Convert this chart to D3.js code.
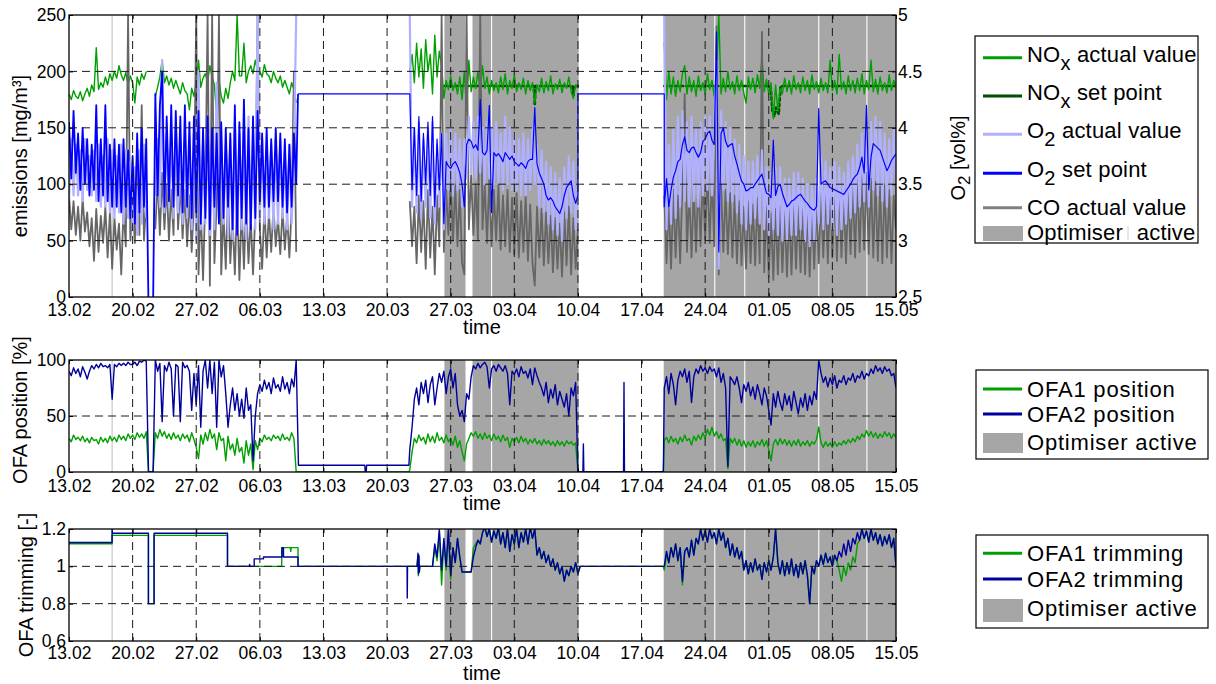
<!DOCTYPE html>
<html>
<head>
<meta charset="utf-8">
<title>Optimiser trial - emissions, OFA position and trimming</title>
<script src="https://d3js.org/d3.v7.min.js"></script>
<style>
    body { margin: 0; background: #fff; }
    text { font-family: "Liberation Sans", Arial, sans-serif; fill: #000; }
</style>
</head>
<body>
<svg id="chart" width="1216" height="684"></svg>
<script>
// ---------------- data ----------------
// time is in days after 13.02; noisy signals are sampled every 6 hours
const STEP = 0.25;
const startA = 0, startB = 37.5, startC = 65.5;

const tickLabels = ["13.02", "20.02", "27.02", "06.03", "13.03", "20.03", "27.03",
    "03.04", "10.04", "17.04", "24.04", "01.05", "08.05", "15.05"];
const emissionTicks = [0, 50, 100, 150, 200, 250];
const o2Ticks = [2.5, 3, 3.5, 4, 4.5, 5];
const positionTicks = [0, 50, 100];
const trimTicks = [0.6, 0.8, 1, 1.2];

// optimiser active intervals [from, to] (days)
const optimiserOn = [[4.70, 4.78], [41.31, 43.63], [44.40, 46.44], [46.56, 56.08],
    [65.44, 71.0], [71.12, 74.3], [74.42, 82.44], [82.56, 87.74], [87.86, 91]];

// NOx actual value [mg/m3]
const noxActA = [180,175,183,178, 176,182,174,180, 185,178,188,182, 221,184,190,186,
    195,188,198,192, 200,194,205,197, 192,199,188,196, 190,172,195,188, 198,193,200,null,
    null,null,178,186, 195,210,190,196, 188,194,185,192, 186,180,190,183, 180,166,185,178,
    190,210,186,194, 198,190,205,195, 188,160,192,178, 172,185,176,190, 200,192,250,196,
    196,225,190,200, 205,198,210,200, 200,195,206,198, 196,190,200,194, 190,196,186,192,
    186,180,190,184, 172];
const noxActB = [200,215, 190,225,195,220, 185,228,200,215, 180,232,195,218, 205,176,192,184,
    196,183,190,180, 195,175,200,165, 210,182,195,185, 200,182,205,185, 195,180,192,183,
    190,181,195,184, 198,180,192,185, 197,182,190,184, 194,180,192,183, 190,172,188,182,
    194,181,191,183, 196,180,189,184, 193,181,190,185, 195,182,176,188, 185];
const noxActC = [226,175, 200,180,195,178, 192,182,198,205, 180,195,182,192, 178,196,183,190,
    180,198,184,192, 178,195,250,180, 194,182,200,184, 191,180,196,183, 192,181,172,195,
    184,194,181,197, 185,212,182,193, 180,190,158,188, 165,185,180,194, 182,192,180,196,
    184,190,181,195, 183,192,180,197, 184,191,181,194, 183,190,181,210, 183,192,180,215,
    184,191,180,196, 183,192,181,194, 183,198,180,192, 184,210,182,193, 180,195,183,190,
    181,197,183,192, 186];
// NOx set point [mg/m3], [day, value]
const noxSetB = [[41.3,187],[51.15,187],[51.25,170],[51.35,187],[55.4,187],[55.5,178],[55.6,187],[56.0,187]];
const noxSetC = [[65.5,187],[71.1,187],[71.2,175],[71.3,187],[77.2,187],[77.4,165],[77.6,160],
    [77.8,168],[78.1,162],[78.3,187],[91,187]];

// O2 actual value [vol%]
const o2ActA = [3.35,3.9,3.4,3.85, 3.4,3.8,3.35,3.9, 3.45,3.75,3.4,3.8, 3.35,3.85,3.3,3.75,
    3.3,3.9,3.25,3.8, 3.2,3.75,3.25,3.85, 3.15,3.8,3.2,3.7, 3.1,3.65,3.05,3.8, 3.15,3.85,3.2,null,
    null,null,3.4,3.9, 3.3,4.6,3.25,3.95, 3.3,3.9,3.2,4.0, 3.25,3.85,3.15,3.9, 3.2,3.9,3.1,3.95,
    3.0,4.5,3.1,3.9, 3.15,3.95,3.05,3.85, 3.1,4.4,3.2,3.9, 3.15,3.85,3.05,3.9, 3.0,4.05,3.05,3.95,
    3.1,4.0,3.0,4.1, 3.15,3.95,3.1,5.0, 3.2,3.9,3.15,3.85, 3.2,3.85,3.1,3.9, 3.15,3.9,3.2,3.8,
    3.1,3.85,3.15,3.8, 5.0];
const o2ActB = [5.0,3.3, 4.0,3.25,4.05,3.2, 3.9,3.3,4.0,3.2, 4.05,3.15,3.85,3.3, 3.95,3.1,3.95,3.45,
    4.0,3.4,3.95,3.45, 3.9,3.3,3.9,3.55, 4.1,3.6,4.05,3.55, 4.1,3.6,4.0,3.5, 4.05,3.55,4.0,3.5,
    4.05,3.5,3.95,3.45, 4.1,3.5,4.0,3.45, 3.95,3.45,3.9,3.4, 3.95,3.4,3.9,3.45, 4.0,3.5,3.85,3.3,
    3.8,3.25,3.7,3.15, 3.65,3.1,3.6,3.05, 3.55,3.0,3.65,3.2, 3.75,3.25,3.7,3.1, 3.5];
const o2ActC = [5.0,3.1, 3.85,3.15,4.0,3.2, 4.1,3.3,4.15,3.35, 4.05,3.3,4.1,3.35, 4.0,3.3,4.05,3.4,
    4.1,3.45,4.1,3.4, 4.05,4.6,2.75,4.15, 3.45,4.05,3.35,4.0, 3.35,3.9,3.25,3.85, 3.15,3.75,3.1,3.7,
    3.15,3.7,3.2,3.75, 3.15,3.8,3.1,3.65, 3.05,3.6,3.1,3.65, 3.05,3.65,3.0,3.55, 3.0,3.55,3.05,3.6,
    3.05,3.6,3.1,3.55, 3.0,3.5,2.95,3.5, 3.0,3.55,3.15,3.75, 3.1,3.7,3.15,3.65, 3.1,3.7,3.05,3.65,
    3.1,3.6,3.15,3.7, 3.2,3.75,3.25,3.85, 3.3,3.95,3.35,4.0, 3.3,4.05,3.45,4.1, 3.4,4.05,3.35,3.95,
    3.3,3.9,3.4,4.0, 3.5];

// O2 set point [vol%]
const o2SetA = [4.05,3.55,4.15,3.6, 3.95,3.45,4.0,3.5, 3.9,3.4,3.85,3.45, 4.2,3.35,3.9,3.4,
    4.2,3.35,3.85,3.3, 3.9,3.3,3.85,3.25, 3.9,3.3,3.8,3.2, 3.75,3.15,3.95,3.25, 4.0,3.3,3.9,2.4,
    2.4,2.4,4.3,3.4, 4.2,4.5,3.3,4.1, 3.35,4.2,3.3,4.15, 3.4,4.1,3.25,4.2, 3.3,4.05,3.2,4.1,
    3.25,4.15,3.15,4.0, 3.2,4.1,3.1,4.0, 3.3,3.95,3.15,4.05, 3.2,4.0,3.3,3.95, 3.1,4.2,3.05,4.05,
    3.2,4.25,3.15,4.0, 3.1,4.1,3.2,4.15, 3.35,3.95,3.3,4.0, 3.3,3.9,3.35,4.0, 3.35,3.95,3.3,3.9,
    3.25,3.85,3.3,3.95, 3.5];
const o2SetB = [4.3,3.45, 4.0,3.4,4.1,3.35, 3.95,3.5,4.05,3.4, 4.1,3.3,3.9,3.45, 3.95,3.15,3.7,3.66,
    3.64,3.68,3.7,3.66, 3.6,3.5,3.3,3.85, 3.9,3.88,3.82,3.85, 3.8,4.25,3.78,3.76, 3.8,4.2,3.25,3.78,
    3.75,3.77,3.74,3.7, 3.78,3.75,3.72,3.75, 3.7,3.68,3.66,3.69, 3.67,3.64,3.7,3.72, 3.72,4.18,3.68,3.6,
    3.55,3.5,3.4,3.36, 3.38,3.35,3.3,3.27, 3.24,3.3,3.4,3.47, 3.5,3.53,3.4,3.33, 3.4];
const o2SetC = [3.3,3.55, 3.3,3.45,3.56,3.62, 3.7,3.72,3.85,3.92, 3.8,3.78,3.82,3.83, 3.78,3.74,3.78,3.88,
    3.9,3.95,3.97,3.89, 3.85,4.85,2.9,3.95, 4.0,3.88,3.83,3.85, 3.86,3.75,3.68,3.6, 3.53,3.5,3.44,3.45,
    3.47,3.47,3.5,3.53, 3.56,3.59,3.5,3.42, 3.41,3.38,3.89,3.4, 3.48,3.5,3.42,3.36, 3.3,3.32,3.35,3.36,
    3.38,3.4,3.41,3.38, 3.35,3.33,3.3,3.28, 3.27,3.3,4.17,3.5, 3.52,3.53,3.5,3.47, 3.46,3.45,3.44,3.43,
    3.42,3.41,3.44,3.47, 3.5,3.54,3.57,3.59, 3.65,3.74,3.6,4.2, 3.45,3.74,3.86,3.84, 3.82,3.8,3.74,3.68,
    3.62,3.66,3.71,3.74, 3.77];
// set point held while the plant ran without the optimiser data
const o2SetHold1 = [[25.2, 4.3], [37.5, 4.3]];
const o2SetHold2 = [[56.0, 4.3], [65.5, 4.3]];

// CO actual value [mg/m3]
const coA = [90,60,85,55, 80,50,88,58, 75,45,70,32, 78,40,72,48, 80,35,75,25, 70,42,65,20,
    78,45,250,50, 82,48,130,55, 170,50,85,null, null,null,60,105, 55,110,60,100, 50,95,55,150,
    60,100,52,95, 45,90,40,85, 250,20,80,15, 90,250,10,250, 30,85,250,20, 75,25,95,30,
    70,20,90,15, 80,25,85,30, 70,20,75,250, 60,25,80,35, 75,40,80,45, 70,38,78,42, 72,35,80,200, 40];
const coB = [85,45, 80,30,90,40, 85,25,95,35, 80,20,90,45, 250,40,95,55, 105,50,100,45, 95,30,20,250,
    60,108,55,100, 50,250,60,100, 48,105,45,95, 50,100,42,90, 45,95,40,88, 38,92,35,85, 40,90,32,82,
    30,10,80,35, 78,28,75,30, 72,22,70,25, 65,18,75,28, 80,20,70,25, 60];
const coC = [90,30, 85,25,95,35, 90,30,100,180, 40,95,35,98, 40,105,45,110, 50,112,48,108, 45,240,20,100,
    40,95,38,92, 35,90,30,85, 28,80,25,85, 30,82,28,88, 30,235,22,80, 18,75,15,78, 20,80,22,75,
    18,78,20,82, 25,80,22,78, 20,76,18,80, 25,85,30,92, 35,95,30,98, 35,95,32,100, 35,92,30,95,
    38,100,35,105, 40,108,42,110, 38,105,35,102, 32,98,30,100, 35,95,30,90, 60];

// OFA positions [%]
const ofa1PosA = [30,27,33,29, 31,28,32,27, 30,26,31,28, 29,25,31,27, 30,26,32,28, 31,27,33,29,
    32,28,34,30, 33,29,35,31, 34,30,36,0, 0,0,35,30, 38,32,36,30, 34,29,35,30, 33,28,34,30,
    33,27,35,29, 22,12,33,25, 35,28,38,30, 34,20,35,28, 30,10,32,20, 25,15,30,18, 22,8,28,15,
    25,2,28,20, 30,27,33,29, 31,28,33,30, 32,28,34,29, 31,28,35,30, 0];
const ofa1PosB = [2,18, 30,26,33,28, 31,25,34,27, 32,26,35,28, 31,26,33,27, 30,24,32,22, 28,18,10,25,
    30,35,32,36, 30,34,29,35, 30,33,28,34, 29,32,27,33, 28,31,22,30, 27,31,26,32, 27,30,25,29,
    26,30,25,28, 24,29,25,28, 24,27,23,28, 24,27,23,28, 25,27,24,26, 0];
const ofa1PosC = [28,31, 26,32,27,30, 25,31,27,33, 28,30,24,32, 28,33,29,35, 30,38,33,40, 32,36,30,34,
    28,30,3,30, 26,30,24,29, 23,28,22,27, 23,28,22,27, 24,29,23,28, 20,10,25,29, 24,30,25,29,
    24,28,23,28, 24,29,23,27, 24,28,23,27, 25,29,40,26, 22,27,23,26, 22,27,23,26, 24,28,25,29,
    26,30,27,32, 29,34,31,37, 32,36,31,35, 30,34,31,36, 32,35,30,34, 31];
const ofa1PosHold = [[[25.25, 0], [37.4, 0]], [[56.25, 0], [65.4, 0]]];

const ofa2PosA = [90,86,93,88, 92,85,94,89, 83,90,95,92, 96,93,97,94, 95,93,96,65, 96,94,97,95,
    97,95,98,96, 96,98,95,99, 98,100,99,0, 0,0,100,90, 97,45,95,90, 98,92,50,96, 94,45,98,93,
    95,90,55,88, 60,95,40,90, 100,75,100,70, 98,40,100,85, 95,70,40,60, 75,55,70,50, 65,48,75,55,
    60,10,50,70, 78,72,82,74, 80,70,84,75, 78,72,85,74, 80,70,83,76, 100];
const ofa2PosB = [20,40, 65,75,60,80, 70,82,62,78, 85,60,75,88, 80,90,70,85, 92,75,88,60, 50,55,45,70,
    65,85,95,92, 97,93,96,98, 94,75,92,95, 90,96,93,90, 95,88,60,90, 87,92,85,94, 88,90,84,92,
    78,93,86,80, 75,68,80,62, 74,66,78,60, 72,65,58,70, 50,75,68,80, 0];
const ofa2PosC = [75,85, 70,88,78,60, 82,90,85,92, 80,90,62,85, 92,88,95,90, 93,88,94,90, 92,85,93,80,
    88,75,5,85, 82,78,85,75, 62,78,72,80, 68,76,65,78, 70,60,75,68, 55,42,70,58, 72,62,55,70,
    60,68,55,72, 62,52,66,58, 70,55,68,60, 72,65,100,88, 80,85,76,84, 78,86,75,82, 80,86,78,84,
    82,88,80,86, 84,90,83,88, 86,92,88,95, 90,93,88,94, 90,92,86,88, 75];
const ofa2PosHold = [
    [[25.25, 6], [32.55, 6], [32.6, 0], [32.7, 0], [32.75, 6], [37.4, 6]],
    [[56.25, 0], [56.55, 0], [56.6, 25], [56.65, 0], [61.02, 0], [61.07, 80], [61.12, 0], [65.4, 0]]];

// OFA trimming [-]; piecewise constant before the optimiser ran, [day, value]
const ofa1TrimSteps = [[0,1.121],[4.74,1.121],[4.74,1.166],[8.74,1.166],[8.74,0.8],[9.36,0.8],
    [9.36,1.166],[17.44,1.166],[17.44,1.0],[23.4,1.0],[23.43,1.1],[24.35,1.1],[24.4,1.08],[24.45,1.1],
    [25.2,1.1],[25.2,1.0],[38.3,1.0],[38.4,1.06],[38.45,0.95],[38.5,1.05],[38.55,0.97],[38.6,1.0],[40.0,1.0]];
const ofa2TrimSteps = [[0,1.128],[4.74,1.128],[4.74,1.2],[4.78,1.177],[8.74,1.177],[8.74,0.8],[9.36,0.8],
    [9.36,1.177],[17.44,1.177],[17.44,1.0],[19.85,1.0],[19.87,1.01],[19.95,1.0],[20.38,1.0],[20.38,1.04],
    [21.4,1.04],[21.4,1.05],[23.43,1.05],[23.43,1.1],[23.6,1.1],[23.6,1.05],[25.2,1.05],[25.2,1.0],
    [37.2,1.0],[37.22,0.83],[37.25,1.0],[38.3,1.0],[38.4,1.07],[38.45,0.96],[38.5,1.06],[38.55,0.97],
    [38.6,1.0],[40.0,1.0]];
const startTrimB = 40.0;
const ofa1TrimB = [1.0,1.1,1.03,1.18, 0.9,1.13,0.98,1.18, 0.93,1.1,1.02,1.15, 1.05,0.97,0.97,0.97,
    0.97,0.97,1.1,1.12, 1.14,1.12,1.18,1.21, 1.16,1.2,1.13,1.19, 1.15,1.21,1.12,1.18, 1.1,1.2,1.08,1.17,
    1.12,1.2,1.1,1.18, 1.13,1.2,1.12,1.21, 1.15,1.2,1.06,1.1, 1.04,1.08,1.02,1.06, 1.0,1.04,0.98,1.02,
    0.96,1.0,0.92,0.98, 0.95,1.0,0.97,1.02, 0.96];
const ofa2TrimB = [1.0,1.12,1.05,1.2, 0.98,1.15,1.0,1.2, 0.95,1.1,1.02,1.15, 1.05,0.97,0.97,0.97,
    0.97,0.97,1.05,1.1, 1.14,1.12,1.18,1.21, 1.16,1.2,1.13,1.19, 1.15,1.21,1.12,1.18, 1.1,1.2,1.08,1.17,
    1.12,1.2,1.1,1.18, 1.13,1.2,1.12,1.21, 1.15,1.2,1.06,1.1, 1.04,1.08,1.02,1.06, 1.0,1.04,0.98,1.02,
    0.96,1.0,0.92,0.98, 0.95,1.0,0.97,1.02, 0.96];
const trimHold = [[56.25, 1.0], [65.4, 1.0]];
const ofa1TrimC = [0.98,1.06, 1.02,1.1,1.05,1.12, 1.03,1.1,0.9,1.08, 1.1,1.05,1.14,1.06, 1.15,1.12,1.2,1.14,
    1.19,1.13,1.2,1.15, 1.18,1.12,1.2,1.14, 1.18,1.1,1.15,1.06, 1.12,1.05,1.1,1.04, 1.08,0.98,1.03,0.96,
    1.02,0.97,1.04,0.98, 1.01,0.93,1.02,0.97, 1.03,0.98,1.05,1.2, 1.02,0.96,1.03,0.95, 1.02,0.96,1.04,0.95,
    1.01,0.94,1.02,0.96, 1.03,0.95,0.8,1.0, 0.96,1.03,1.0,1.06, 1.01,1.07,1.02,1.05, 1.0,1.06,1.03,0.98,
    0.92,1.0,0.95,1.02, 0.98,1.05,1.02,1.12, 1.14,1.2,1.15,1.19, 1.13,1.2,1.14,1.18, 1.12,1.17,1.11,1.16,
    1.12,1.17,1.1,1.15, 1.0];
const ofa2TrimC = [1.0,1.08, 1.02,1.1,1.05,1.12, 1.03,1.1,0.92,1.08, 1.1,1.05,1.14,1.06, 1.15,1.12,1.2,1.14,
    1.19,1.13,1.2,1.15, 1.18,1.12,1.2,1.14, 1.18,1.1,1.15,1.06, 1.12,1.05,1.1,1.04, 1.08,0.98,1.03,0.96,
    1.02,0.97,1.04,0.98, 1.01,0.93,1.02,0.97, 1.03,0.98,1.05,1.2, 1.02,0.96,1.03,0.95, 1.02,0.96,1.04,0.95,
    1.01,0.94,1.02,0.96, 1.03,0.95,0.8,1.0, 0.96,1.03,1.0,1.06, 1.01,1.07,1.02,1.05, 1.0,1.06,1.03,1.08,
    1.05,1.12,1.06,1.14, 1.08,1.15,1.12,1.18, 1.14,1.2,1.15,1.19, 1.13,1.2,1.14,1.18, 1.12,1.17,1.11,1.16,
    1.12,1.17,1.1,1.15, 1.0];

// ---------------- helpers ----------------
const FONT = '"Liberation Sans", Arial, sans-serif';
const COL = {
    nox: "#00a000", noxSet: "#004f00", o2: "#b0b0ff", o2Set: "#0000ff",
    co: "#666666", opt: "#a6a6a6", ofa1: "#00a000", ofa2: "#00009c"
};
const DAY0 = Date.UTC(2013, 1, 13);
const t = d => new Date(DAY0 + d * 864e5);
const sampled = (start, vals) => vals.map((v, i) => [start + i * STEP, v]);
const BREAK = [[null, null]];
const parseTick = d3.utcParse("%d.%m.%Y");
const tickDates = tickLabels.map(s => parseTick(s + ".2013"));

const svg = d3.select("#chart");
const defs = svg.append("defs");
const X0 = 69, X1 = 896;
const x = d3.scaleUtc().domain([tickDates[0], tickDates[tickDates.length - 1]]).range([X0, X1]);

function makePanel(id, y0, y1) {
    defs.append("clipPath").attr("id", "clip-" + id)
        .append("rect").attr("x", X0).attr("y", y0).attr("width", X1 - X0).attr("height", y1 - y0);
    const g = svg.append("g").attr("id", id);
    const plot = g.append("g").attr("clip-path", `url(#clip-${id})`);
    plot.selectAll("rect.opt").data(optimiserOn).join("rect")
        .attr("class", "opt")
        .attr("x", d => x(t(d[0])))
        .attr("width", d => x(t(d[1])) - x(t(d[0])))
        .attr("y", y0).attr("height", y1 - y0)
        .attr("fill", COL.opt);
    return { g, plot, y0, y1 };
}

function drawLine(p, y, pts, color, width, dash) {
    const line = d3.line()
        .defined(d => d[1] != null && d[0] != null)
        .x(d => x(t(d[0])))
        .y(d => y(d[1]));
    const path = p.plot.append("path").datum(pts)
        .attr("fill", "none").attr("stroke", color)
        .attr("stroke-width", width).attr("stroke-linejoin", "round")
        .attr("d", line);
    if (dash) path.attr("stroke-dasharray", dash).attr("stroke-linecap", "round");
}

function finishPanel(p, yLeft, leftTicks, xPad, yRight, rightTicks) {
    const { g, y0, y1 } = p;
    // dashed grid on top of the data
    const grid = g.append("g").attr("stroke", "#1a1a1a").attr("stroke-width", 1)
        .attr("stroke-dasharray", "8,5");
    grid.selectAll("line.v").data(tickDates.slice(1, -1)).join("line").attr("class", "v")
        .attr("x1", d => x(d)).attr("x2", d => x(d)).attr("y1", y0).attr("y2", y1);
    grid.selectAll("line.h").data(leftTicks.slice(1, -1)).join("line").attr("class", "h")
        .attr("x1", X0).attr("x2", X1).attr("y1", d => yLeft(d)).attr("y2", d => yLeft(d));

    const style = sel => {
        sel.attr("font-family", FONT).attr("font-size", 17.5);
        sel.select(".domain").remove();
        sel.selectAll(".tick line").attr("stroke", "#000");
        sel.selectAll(".tick text").attr("fill", "#000");
    };
    g.append("g").attr("transform", `translate(0,${y1})`)
        .call(d3.axisBottom(x).tickValues(tickDates).tickFormat(d3.utcFormat("%d.%m")).tickSize(-4).tickPadding(xPad))
        .call(style);
    g.append("g").attr("transform", `translate(0,${y0})`)
        .call(d3.axisTop(x).tickValues(tickDates).tickFormat("").tickSize(-4))
        .call(style);
    g.append("g").attr("transform", `translate(${X0},0)`)
        .call(d3.axisLeft(yLeft).tickValues(leftTicks).tickFormat(d => String(d)).tickSize(-4).tickPadding(3))
        .call(style);
    if (yRight) {
        g.append("g").attr("transform", `translate(${X1},0)`)
            .call(d3.axisRight(yRight).tickValues(rightTicks).tickFormat(d => String(d)).tickSize(-4).tickPadding(2))
            .call(style);
    } else {
        g.append("g").attr("transform", `translate(${X1},0)`)
            .call(d3.axisRight(yLeft).tickValues(leftTicks).tickFormat("").tickSize(-4))
            .call(style);
    }
    g.append("rect").attr("x", X0).attr("y", y0).attr("width", X1 - X0).attr("height", y1 - y0)
        .attr("fill", "none").attr("stroke", "#000").attr("stroke-width", 1.3);
}

function axisTitle(txt, xPos, yPos, rotate) {
    const el = svg.append("text").attr("font-size", 20).attr("text-anchor", "middle")
        .attr("transform", `translate(${xPos},${yPos})` + (rotate ? " rotate(-90)" : ""));
    return el.text(txt);
}

// ---------------- top panel: emissions and O2 ----------------
const emP = makePanel("emissions", 15, 297);
const yEm = d3.scaleLinear().domain([0, 250]).range([297, 15]);
const yO2 = d3.scaleLinear().domain([2.5, 5]).range([297, 15]);

drawLine(emP, yEm, [...noxSetB, ...BREAK, ...noxSetC], COL.noxSet, 2.6, "2.5,3");
drawLine(emP, yEm, [...sampled(startA, noxActA), ...BREAK, ...sampled(startB, noxActB), ...BREAK,
    ...sampled(startC, noxActC)], COL.nox, 1.4);
drawLine(emP, yEm, [...sampled(startA, coA), ...BREAK, ...sampled(startB, coB), ...BREAK,
    ...sampled(startC, coC)], COL.co, 1.8);
drawLine(emP, yO2, [...sampled(startA, o2ActA), ...BREAK, ...sampled(startB, o2ActB), ...BREAK,
    ...sampled(startC, o2ActC)], COL.o2, 2.2);
// the set point swings hard before the optimiser ran: drawn a bit heavier there
drawLine(emP, yO2, [...sampled(startA, o2SetA), o2SetHold1[0]], COL.o2Set, 1.8);
drawLine(emP, yO2, [...o2SetHold1, ...sampled(startB, o2SetB),
    ...o2SetHold2, ...sampled(startC, o2SetC)], COL.o2Set, 1.2);
finishPanel(emP, yEm, emissionTicks, 7, yO2, o2Ticks);

// ---------------- middle panel: OFA position ----------------
const posP = makePanel("position", 360, 472);
const yPos = d3.scaleLinear().domain([0, 100]).range([472, 360]);
drawLine(posP, yPos, [...sampled(startA, ofa1PosA), ...ofa1PosHold[0], ...sampled(startB, ofa1PosB),
    ...ofa1PosHold[1], ...sampled(startC, ofa1PosC)], COL.ofa1, 1.4);
drawLine(posP, yPos, [...sampled(startA, ofa2PosA), ...ofa2PosHold[0], ...sampled(startB, ofa2PosB),
    ...ofa2PosHold[1], ...sampled(startC, ofa2PosC)], COL.ofa2, 1.4);
finishPanel(posP, yPos, positionTicks, 8);

// ---------------- bottom panel: OFA trimming ----------------
const trimP = makePanel("trimming", 529, 641);
const yTrim = d3.scaleLinear().domain([0.6, 1.2]).range([641, 529]);
drawLine(trimP, yTrim, [...ofa1TrimSteps, ...sampled(startTrimB, ofa1TrimB), ...trimHold,
    ...sampled(startC, ofa1TrimC)], COL.ofa1, 1.4);
drawLine(trimP, yTrim, [...ofa2TrimSteps, ...sampled(startTrimB, ofa2TrimB), ...trimHold,
    ...sampled(startC, ofa2TrimC)], COL.ofa2, 1.4);
finishPanel(trimP, yTrim, trimTicks, 6);

// ---------------- axis titles ----------------
axisTitle("emissions [mg/m³]", 27, 156, true);
axisTitle("OFA position [%]", 27, 410, true);
axisTitle("OFA trimming [-]", 33, 585, true);
axisTitle("time", 482, 334, false);
axisTitle("time", 482, 510, false);
axisTitle("time", 482, 680, false);
const o2Title = svg.append("text").attr("font-size", 20).attr("text-anchor", "middle")
    .attr("transform", "translate(965,158) rotate(-90)");
o2Title.append("tspan").text("O");
o2Title.append("tspan").attr("dy", 5).attr("font-size", 17).text("2");
o2Title.append("tspan").attr("dy", -5).text(" [vol%]");

// ---------------- legends ----------------
function legend(box, rows, spacing) {
    const g = svg.append("g").attr("font-size", 22).attr("letter-spacing", spacing || 0);
    g.append("rect").attr("x", box[0]).attr("y", box[1]).attr("width", box[2] - box[0])
        .attr("height", box[3] - box[1]).attr("fill", "#fff").attr("stroke", "#000").attr("stroke-width", 1.2);
    rows.forEach(r => {
        if (r.patch) {
            g.append("rect").attr("x", 983).attr("y", r.patch[0]).attr("width", 40)
                .attr("height", r.patch[1] - r.patch[0]).attr("fill", COL.opt);
        } else {
            g.append("line").attr("x1", 983).attr("x2", 1022).attr("y1", r.y).attr("y2", r.y)
                .attr("stroke", r.color).attr("stroke-width", 3);
        }
        const txt = g.append("text").attr("x", 1027).attr("y", r.base);
        r.parts.forEach(p => {
            const ts = txt.append("tspan").text(p[0]);
            if (p[1]) ts.attr("dy", p[1]);
            if (p[2]) ts.attr("font-size", p[2]);
        });
    });
    return g;
}

const topLegend = legend([975, 36, 1198, 243], [
    { y: 57.7, base: 61.7, color: COL.nox, parts: [["NO"], ["x", 8, 20], [" actual value", -8]] },
    { y: 96, base: 100, color: COL.noxSet, parts: [["NO"], ["x", 8, 20], [" set point", -8]] },
    { y: 134.3, base: 138.3, color: COL.o2, parts: [["O"], ["2", 8, 20], [" actual value", -8]] },
    { y: 173.3, base: 176.7, color: COL.o2Set, parts: [["O"], ["2", 8, 20], [" set point", -8]] },
    { y: 207.7, base: 215, color: "#808080", parts: [["CO actual value"]] },
    { patch: [226, 241], base: 240, parts: [["Optimiser"], ["\u2009\u2009\u2009active"]] }
], 0.2);
topLegend.append("line").attr("x1", 1128).attr("x2", 1128).attr("y1", 226).attr("y2", 240)
    .attr("stroke", "#d0d0d0").attr("stroke-width", 1);

legend([976, 370, 1208, 459], [
    { y: 389, base: 396.7, color: COL.ofa1, parts: [["OFA1 position"]] },
    { y: 414, base: 421.7, color: COL.ofa2, parts: [["OFA2 position"]] },
    { patch: [433, 453], base: 450, parts: [["Optimiser active"]] }
], 0.8);

legend([976, 535, 1208, 628], [
    { y: 553.3, base: 560.7, color: COL.ofa1, parts: [["OFA1 trimming"]] },
    { y: 579, base: 586.7, color: COL.ofa2, parts: [["OFA2 trimming"]] },
    { patch: [599, 622], base: 616, parts: [["Optimiser active"]] }
], 0.8);
</script>
</body>
</html>
